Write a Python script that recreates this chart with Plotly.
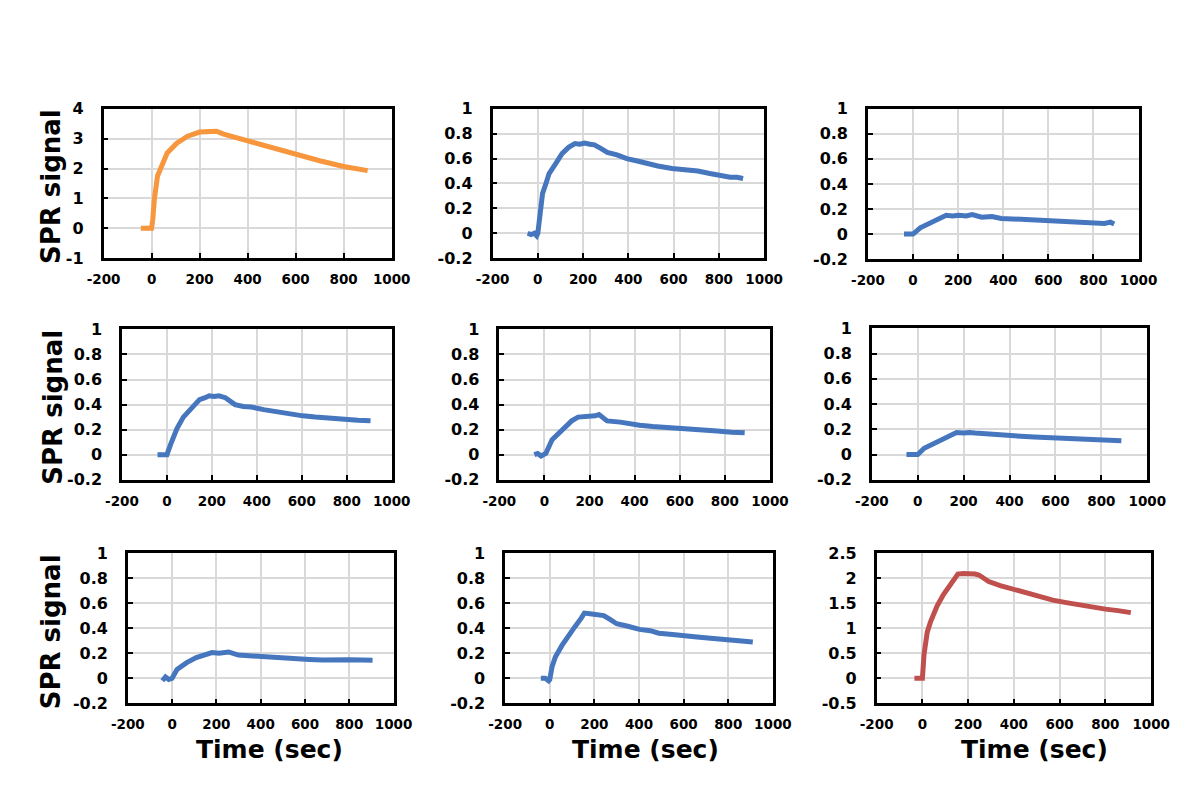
import plotly.graph_objects as go

# ---- data ----
t1 = [-45, -20, -5, 0, 5, 12, 25, 40, 65, 105, 150, 200, 250, 270, 300, 400, 500, 600, 700, 800, 900]
y1 = [0.0, -0.02, -0.03, 0.0, 0.3, 1.0, 1.76, 2.08, 2.52, 2.85, 3.08, 3.22, 3.27, 3.25, 3.15, 2.93, 2.69, 2.46, 2.26, 2.07, 1.93]

t2 = [-45, -30, -15, -5, 0, 7, 21, 36, 50, 79, 107, 136, 164, 185, 207, 230, 250, 280, 307, 350, 393, 440, 479, 530, 593, 650, 707, 760, 807, 850, 880, 907]
y2 = [0.0, -0.01, 0.0, -0.02, 0.0, 0.09, 0.32, 0.40, 0.48, 0.56, 0.64, 0.69, 0.72, 0.715, 0.725, 0.715, 0.71, 0.68, 0.65, 0.63, 0.60, 0.58, 0.56, 0.54, 0.52, 0.51, 0.50, 0.48, 0.46, 0.45, 0.45, 0.44]

t3 = [-40, -20, -5, 0, 32, 75, 118, 147, 175, 204, 235, 262, 305, 350, 391, 450, 505, 560, 620, 680, 735, 790, 849, 875, 892]
y3 = [0.0, 0.0, -0.005, 0.0, 0.05, 0.085, 0.13, 0.15, 0.145, 0.15, 0.145, 0.155, 0.135, 0.14, 0.125, 0.12, 0.11, 0.11, 0.105, 0.10, 0.093, 0.09, 0.085, 0.095, 0.08]

t4 = [-42, -20, -5, 0, 16, 45, 73, 102, 145, 170, 188, 210, 231, 260, 303, 340, 375, 430, 490, 550, 605, 660, 720, 760, 806, 850, 906]
y4 = [0.0, 0.0, -0.01, 0.0, 0.08, 0.21, 0.30, 0.36, 0.44, 0.455, 0.47, 0.465, 0.47, 0.455, 0.40, 0.385, 0.38, 0.36, 0.34, 0.325, 0.31, 0.30, 0.29, 0.285, 0.28, 0.275, 0.27]

t5 = [-45, -30, -15, 0, 6, 34, 78, 121, 149, 180, 207, 225, 242, 278, 336, 380, 422, 480, 537, 600, 652, 710, 766, 830, 888]
y5 = [0.0, 0.01, -0.01, 0.0, 0.01, 0.12, 0.195, 0.27, 0.30, 0.30, 0.305, 0.31, 0.32, 0.27, 0.26, 0.245, 0.235, 0.225, 0.22, 0.21, 0.20, 0.195, 0.19, 0.18, 0.175]

t6 = [-49, -30, -10, 0, 28, 85, 141, 169, 200, 225, 250, 282, 340, 394, 450, 507, 560, 620, 680, 732, 800, 850, 887]
y6 = [0.0, 0.0, -0.005, 0.0, 0.05, 0.10, 0.155, 0.175, 0.17, 0.175, 0.17, 0.165, 0.16, 0.15, 0.145, 0.14, 0.135, 0.13, 0.125, 0.12, 0.12, 0.115, 0.11]

t7 = [-44, -30, -15, 0, 22, 66, 109, 153, 180, 212, 235, 255, 299, 340, 387, 450, 504, 560, 620, 680, 737, 800, 860, 905]
y7 = [-0.02, 0.01, -0.01, 0.0, 0.07, 0.125, 0.165, 0.195, 0.205, 0.20, 0.21, 0.21, 0.185, 0.18, 0.17, 0.165, 0.16, 0.155, 0.15, 0.145, 0.15, 0.148, 0.145, 0.143]

t8 = [-40, -20, -5, 0, 10, 25, 54, 83, 112, 141, 155, 180, 199, 220, 242, 270, 300, 350, 402, 450, 489, 550, 605, 660, 721, 780, 837, 880, 910]
y8 = [0.0, 0.0, -0.02, -0.01, 0.09, 0.17, 0.26, 0.34, 0.41, 0.48, 0.52, 0.515, 0.51, 0.505, 0.50, 0.47, 0.435, 0.415, 0.39, 0.38, 0.36, 0.35, 0.335, 0.33, 0.32, 0.31, 0.305, 0.30, 0.29]

t9 = [-35, -20, -5, 0, 7, 21, 35, 64, 92, 120, 155, 180, 205, 230, 247, 270, 290, 340, 403, 460, 516, 570, 629, 690, 742, 800, 855, 911]
y9 = [0.0, -0.01, -0.01, 0.0, 0.47, 0.92, 1.12, 1.44, 1.67, 1.86, 2.08, 2.09, 2.09, 2.08, 2.06, 2.0, 1.93, 1.85, 1.77, 1.69, 1.62, 1.56, 1.51, 1.46, 1.41, 1.38, 1.35, 1.31]

series = [(t1, y1), (t2, y2), (t3, y3), (t4, y4), (t5, y5), (t6, y6), (t7, y7), (t8, y8), (t9, y9)]
colors = ["#F7963C", "#4676BE", "#4676BE", "#4676BE", "#4676BE", "#4676BE", "#4676BE", "#4676BE", "#C0504D"]

x_range = [-200, 1000]
x_ticks = [-200, 0, 200, 400, 600, 800, 1000]
x_ticktext = ["-200", "0", "200", "400", "600", "800", "1000"]

y_ticks_a = [-1, 0, 1, 2, 3, 4]
y_text_a = ["-1", "0", "1", "2", "3", "4"]
y_ticks_b = [-0.2, 0, 0.2, 0.4, 0.6, 0.8, 1]
y_text_b = ["-0.2", "0", "0.2", "0.4", "0.6", "0.8", "1"]
y_ticks_c = [-0.5, 0, 0.5, 1, 1.5, 2, 2.5]
y_text_c = ["-0.5", "0", "0.5", "1", "1.5", "2", "2.5"]

y_ranges = [[-1, 4], [-0.2, 1], [-0.2, 1], [-0.2, 1], [-0.2, 1], [-0.2, 1], [-0.2, 1], [-0.2, 1], [-0.5, 2.5]]
y_tick_sets = [(y_ticks_a, y_text_a)] + [(y_ticks_b, y_text_b)] * 7 + [(y_ticks_c, y_text_c)]

y_title = "SPR signal"
x_title = "Time (sec)"

# ---- layout geometry (pixels) ----
W, H = 1200, 801
boxes = [
    (81, 378, 94, 247), (482, 762, 94, 247), (869, 1148, 94, 248),
    (100, 378, 320, 474), (489, 768, 320, 474), (873, 1157, 319, 474),
    (106, 380, 549, 703), (495, 771, 549, 703), (878, 1161, 549, 703),
]

FONT = "DejaVu Sans, sans-serif"
fig = go.Figure()
layout = dict(width=W, height=H, margin=dict(l=0, r=0, t=0, b=0),
              paper_bgcolor="white", plot_bgcolor="white", showlegend=False)

for i, ((t, y), c) in enumerate(zip(series, colors)):
    n = "" if i == 0 else str(i + 1)
    fig.add_trace(go.Scatter(x=t, y=y, mode="lines", line=dict(color=c, width=5),
                             xaxis="x" + n, yaxis="y" + n, hoverinfo="skip"))
    x0, x1, y0, y1b = boxes[i]
    layout["xaxis" + n] = dict(
        domain=[x0 / W, x1 / W], anchor="y" + n, range=x_range,
        tickvals=x_ticks, ticktext=x_ticktext,
        showgrid=True, gridcolor="#D9D9D9", gridwidth=1.5, zeroline=False,
        showline=True, linecolor="black", linewidth=2.5, mirror=True,
        ticks="inside", ticklen=5, tickwidth=2, tickcolor="black",
        tickfont=dict(family=FONT, size=13.5, color="black", weight="bold"),
        ticklabelstandoff=7,
    )
    tv, tt = y_tick_sets[i]
    layout["yaxis" + n] = dict(
        domain=[1 - y1b / H, 1 - y0 / H], anchor="x" + n, range=y_ranges[i],
        tickvals=tv, ticktext=tt,
        showgrid=True, gridcolor="#D9D9D9", gridwidth=1.5, zeroline=False,
        showline=True, linecolor="black", linewidth=2.5, mirror=True,
        ticks="inside", ticklen=5, tickwidth=2, tickcolor="black",
        tickfont=dict(family=FONT, size=16, color="black", weight="bold"),
        ticklabelstandoff=14,
    )

anns = []
for (cx, cy) in [(27, 174), (28, 400), (27, 630)]:
    anns.append(dict(text=y_title, x=cx / W, y=1 - cy / H, xref="paper", yref="paper",
                     showarrow=False, textangle=-90, xanchor="center", yanchor="middle",
                     font=dict(family=FONT, size=26, color="black", weight="bold")))
for (cx, cy) in [(252, 750), (640, 750), (1041, 750)]:
    anns.append(dict(text=x_title, x=cx / W, y=1 - cy / H, xref="paper", yref="paper",
                     showarrow=False, xanchor="center", yanchor="middle",
                     font=dict(family=FONT, size=25, color="black", weight="bold")))
layout["annotations"] = anns

fig.update_layout(**layout)
fig.write_html("out.html")
